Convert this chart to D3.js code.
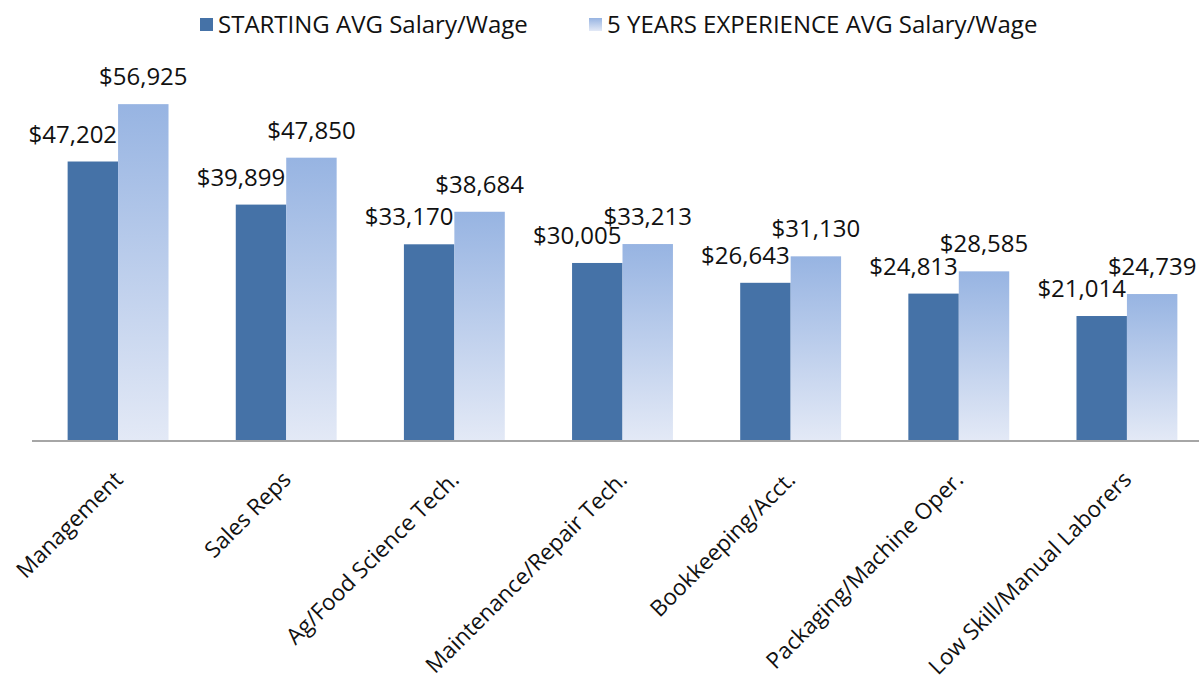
<!DOCTYPE html>
<html>
<head>
<meta charset="utf-8">
<script src="https://cdn.jsdelivr.net/npm/d3@7"></script>
<style>
  body { margin: 0; background: #fff; }
  svg text { font-family: "Open Sans", sans-serif; fill: #111; }
</style>
</head>
<body>
<div class="chart"></div>
<script>

// data
const categories = ['Management', 'Sales Reps', 'Ag/Food Science Tech.', 'Maintenance/Repair Tech.',
  'Bookkeeping/Acct.', 'Packaging/Machine Oper.', 'Low Skill/Manual Laborers'];
const startingSalary = [47202, 39899, 33170, 30005, 26643, 24813, 21014];
const fiveYearSalary = [56925, 47850, 38684, 33213, 31130, 28585, 24739];
const seriesNames = ['STARTING AVG Salary/Wage', '5 YEARS EXPERIENCE AVG Salary/Wage'];

const width = 1199, height = 686;
const margin = {top: 86, bottom: 246, left: 34};

const darkBlue = '#4572a7';

const svg = d3.select('.chart').append('svg')
  .attr('width', width)
  .attr('height', height);

const defs = svg.append('defs');
const grad = defs.append('linearGradient')
  .attr('id', 'lightGrad')
  .attr('x1', 0).attr('y1', 0).attr('x2', 0).attr('y2', 1);
grad.append('stop').attr('offset', '0%').attr('stop-color', '#97b4e2');
grad.append('stop').attr('offset', '100%').attr('stop-color', '#e3e9f6');

// the plot area runs a little past the right edge of the picture
let xScale = d3.scaleBand()
  .domain(categories)
  .range([margin.left, margin.left + 1177])
  .paddingInner(0.4)
  .paddingOuter(0.2);

let inner = d3.scaleBand()
  .domain([0, 1])
  .range([0, xScale.bandwidth()]);

let yScale = d3.scaleLinear()
  .domain([0, 60000])
  .range([height - margin.bottom, margin.top]);

const rows = categories.map((c, i) => ({cat: c, vals: [startingSalary[i], fiveYearSalary[i]]}));

const groups = svg.selectAll('.cat')
  .data(rows)
  .enter().append('g')
  .attr('class', 'cat')
  .attr('transform', d => 'translate(' + xScale(d.cat) + ',0)');

groups.selectAll('rect')
  .data(d => d.vals.map((v, s) => ({s: s, v: v})))
  .enter().append('rect')
  .attr('x', d => inner(d.s))
  .attr('y', d => yScale(d.v))
  .attr('width', inner.bandwidth())
  .attr('height', d => yScale(0) - yScale(d.v))
  .attr('fill', d => d.s == 0 ? darkBlue : 'url(#lightGrad)');

// value labels: light ones centred, dark ones pushed left so they end at the bar edge
groups.selectAll('.val')
  .data(d => d.vals.map((v, s) => ({s: s, v: v})))
  .enter().append('text')
  .attr('class', 'val')
  .attr('x', d => d.s == 0 ? inner(1) - 1 : inner(1) + inner.bandwidth() / 2)
  .attr('y', d => yScale(d.v) - 19)
  .attr('text-anchor', d => d.s == 0 ? 'end' : 'middle')
  .style('font-size', '24px')
  .text(d => '$' + d3.format(',')(d.v));

// baseline
svg.append('line')
  .attr('x1', margin.left - 2)
  .attr('x2', width)
  .attr('y1', yScale(0) + 1)
  .attr('y2', yScale(0) + 1)
  .attr('stroke', '#a6a6a6')
  .attr('stroke-width', 2);

// rotated category labels
svg.selectAll('.catlabel')
  .data(categories)
  .enter().append('text')
  .attr('class', 'catlabel')
  .attr('text-anchor', 'end')
  .attr('transform', d => 'translate(' + (xScale(d) + xScale.bandwidth() / 2 + 6) + ',' + (yScale(0) + 41) + ') rotate(-45)')
  .style('font-size', '22.5px')
  .text(d => d);

// legend
const legendX = [200, 589];
const legend = svg.selectAll('.legend')
  .data(seriesNames)
  .enter().append('g')
  .attr('class', 'legend')
  .attr('transform', (d, i) => 'translate(' + legendX[i] + ',18)');

legend.append('rect')
  .attr('width', 13)
  .attr('height', 13)
  .attr('fill', (d, i) => i == 0 ? darkBlue : 'url(#lightGrad)');

legend.append('text')
  .attr('x', 18)
  .attr('y', 15)
  .style('font-size', '24px')
  .text(d => d);

</script>
</body>
</html>
